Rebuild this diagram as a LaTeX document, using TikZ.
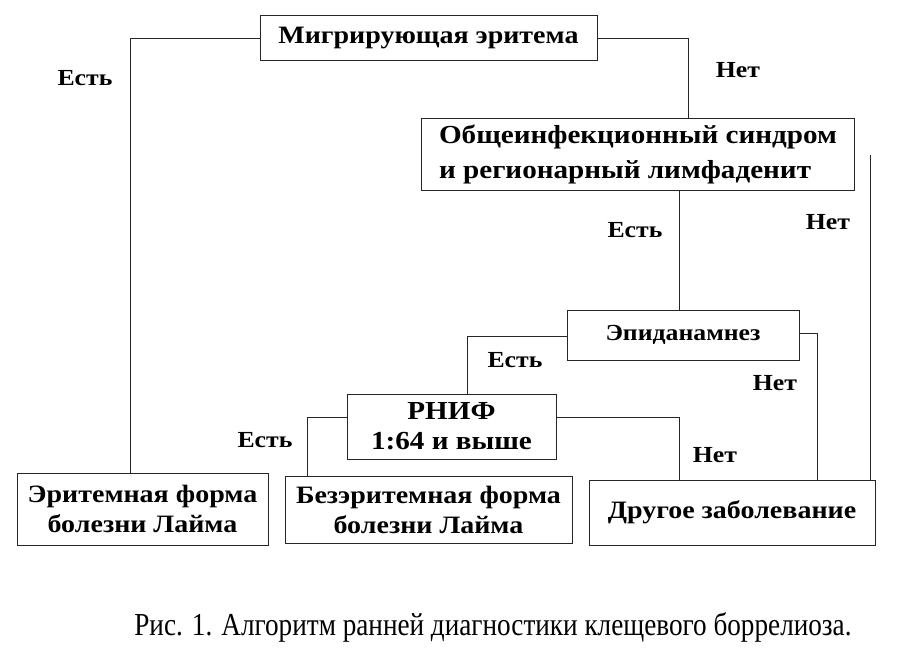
\documentclass[tikz,border=0pt]{standalone}
\usepackage{fontspec}
\setmainfont{Liberation Serif}
\newfontfamily\diagfont[FakeStretch=1.12]{Liberation Serif}
\newfontfamily\capfont[FakeStretch=0.85]{Liberation Serif}
\begin{document}
\begin{tikzpicture}[x=1pt,y=-1pt,
  box/.style={draw=black!85,line width=0.9pt,rectangle,inner sep=0pt,align=center,font=\diagfont\fontsize{25}{30}\selectfont\bfseries},
  lbl/.style={font=\diagfont\fontsize{23}{26}\selectfont\bfseries,inner sep=0pt},
  conn/.style={draw=black!85,line width=0.9pt}]
\useasboundingbox (0,0) rectangle (900,653);
\node[box,minimum width=337,minimum height=45] (top) at (428.5,38) {Мигрирующая эритема};
\node[box,minimum width=433,minimum height=72,align=left,font=\diagfont\fontsize{26}{35}\selectfont\bfseries] (box2) at (638,154) {Общеинфекционный синдром\\и регионарный лимфаденит};
\node[box,minimum width=232,minimum height=50,font=\diagfont\fontsize{23}{26}\selectfont\bfseries] (epi) at (683,335) {Эпиданамнез};
\node[box,minimum width=209,minimum height=65,font=\diagfont\fontsize{26}{30}\selectfont\bfseries] (rnif) at (451.5,426.5) {РНИФ\\1:64 и выше};
\node[box,minimum width=251,minimum height=72] (erit) at (142.5,509) {Эритемная форма\\болезни Лайма};
\node[box,minimum width=287,minimum height=67] (bez) at (428.5,509.5) {Безэритемная форма\\болезни Лайма};
\node[box,minimum width=286,minimum height=65] (other) at (732,512.5) {Другое заболевание};

\coordinate (a1) at (130,38);
\coordinate (a2) at (688,38);
\coordinate (a3) at (679,190);
\coordinate (a4) at (870,155);
\coordinate (a5) at (467,336);
\coordinate (a6) at (817,333);
\coordinate (a7) at (307,417);
\coordinate (a8) at (679,417);

\draw[conn] (top.west) -- (a1) -- (a1 |- erit.north);
\draw[conn] (top.east) -- (a2) -- (a2 |- box2.north);
\draw[conn] (a3) -- (a3 |- epi.north);
\draw[conn] (a4) -- (a4 |- other.north);
\draw[conn] (epi.west |- a5) -- (a5) -- (a5 |- rnif.north);
\draw[conn] (epi.east |- a6) -- (a6) -- (a6 |- other.north);
\draw[conn] (rnif.west |- a7) -- (a7) -- (a7 |- bez.north);
\draw[conn] (rnif.east |- a8) -- (a8) -- (a8 |- other.north);

\node[lbl] (l1) at (85,78) {Есть};
\node[lbl] (l2) at (738,70) {Нет};
\node[lbl] (l3) at (635,230) {Есть};
\node[lbl] (l4) at (828,222) {Нет};
\node[lbl] (l5) at (515,360) {Есть};
\node[lbl] (l6) at (775,383) {Нет};
\node[lbl] (l7) at (265,440) {Есть};
\node[lbl] (l8) at (715,455) {Нет};

\node[font=\capfont\fontsize{32}{36}\selectfont,inner sep=0pt] (cap) at (493,627) {Рис. 1. Алгоритм ранней диагностики клещевого боррелиоза.};
\end{tikzpicture}
\end{document}
